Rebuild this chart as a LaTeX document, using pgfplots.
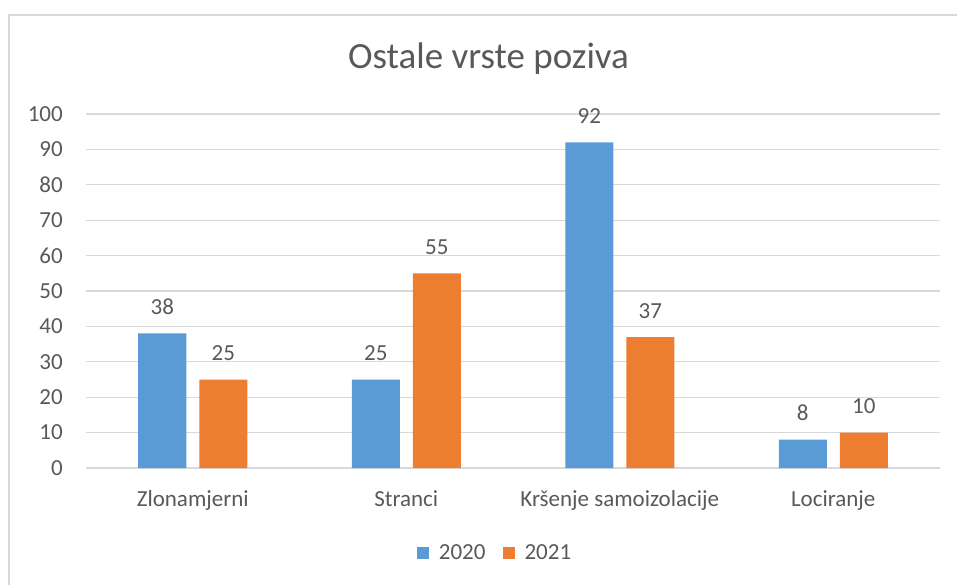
\documentclass[border=0pt]{standalone}
\usepackage{fontspec}
\setmainfont{Carlito}
\usepackage{pgfplots}
\pgfplotsset{compat=1.18}
\definecolor{c20}{RGB}{91,155,213}
\definecolor{c21}{RGB}{237,125,49}
\definecolor{txt}{RGB}{89,89,89}
\definecolor{gridc}{RGB}{217,217,217}
\begin{document}
\begin{tikzpicture}
\begin{axis}[name=ax, scale only axis, width=854bp, height=354bp,
 ymin=0, ymax=100, xmin=-0.5, xmax=3.5,
 ytick={0,10,...,100}, xtick={0,1,2,3},
 xticklabels={Zlonamjerni,Stranci,Kršenje samoizolacije,Lociranje},
 axis line style={draw=none}, major tick length=0pt,
 ymajorgrids, grid style={gridc, line width=1.3bp},
 ybar=13bp, bar width=48bp,
 tick label style={font=\fontsize{23bp}{27bp}\selectfont, text=txt},
 /pgf/number format/assume math mode=true,
 yticklabel style={anchor=east, inner sep=0pt, xshift=-23bp},
 xticklabel style={anchor=base, inner sep=0pt, yshift=-38bp},
 nodes near coords,
 nodes near coords style={font=\fontsize{23bp}{27bp}\selectfont, text=txt, anchor=base, inner sep=0pt, yshift=19bp},
 legend image code/.code={\path[#1] (0bp,-6bp) rectangle (12bp,6bp);},
 legend style={draw=none, fill=none, legend columns=2,
   font=\fontsize{23bp}{27bp}\selectfont, text=txt,
   at={(rel axis cs:0.4778,-0.240)}, anchor=center, inner sep=0pt,
   nodes={inner sep=0pt},
   /tikz/every odd column/.append style={column sep=10bp},
   /tikz/every even column/.append style={column sep=17bp}},
 legend cell align=left,
]
\addplot[fill=c20, draw=none] coordinates {(0,38) (1,25) (2,92) (3,8)};
\addplot[fill=c21, draw=none] coordinates {(0,25) (1,55) (2,37) (3,10)};
\legend{2020,2021}
\end{axis}
\node[anchor=base, font=\fontsize{37bp}{44bp}\selectfont, text=txt] at ([shift={(402.5bp,399bp)}]ax.south west) {Ostale vrste poziva};
\draw[gridc, line width=1.3bp] ([shift={(-77bp,453bp)}]ax.south west) rectangle ([shift={(880bp,-125bp)}]ax.south west);
\pgfresetboundingbox
\useasboundingbox ([shift={(-86bp,-117bp)}]ax.south west) rectangle ([shift={(871bp,468bp)}]ax.south west);
\end{tikzpicture}
\end{document}
